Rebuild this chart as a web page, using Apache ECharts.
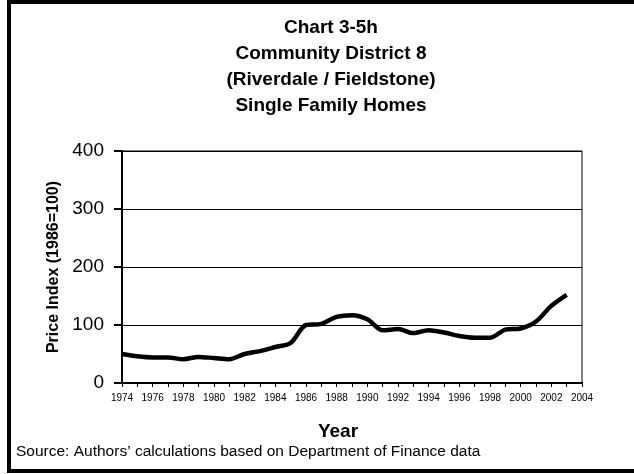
<!DOCTYPE html>
<html>
<head>
<meta charset="utf-8">
<script src="https://cdn.jsdelivr.net/npm/echarts@6/dist/echarts.min.js"></script>
<style>html,body{margin:0;padding:0;background:#fff;}#c{width:634px;height:474px;}</style>
</head>
<body>
<div id="c"></div>
<script>
const titleLines = ["Chart 3-5h", "Community District 8", "(Riverdale / Fieldstone)", "Single Family Homes"];
const years = ["1974","1975","1976","1977","1978","1979","1980","1981","1982","1983","1984","1985","1986","1987","1988","1989","1990","1991","1992","1993","1994","1995","1996","1997","1998","1999","2000","2001","2002","2003","2004"];
const priceIndex = [50,46,44,44,41,45,43,41,50,55,62,69,100,102,114,117,110,91,93,86,91,87,81,78,78,92,94,106,133,152,null];
const yTicks = {min:0, max:400, interval:100};
const yName = "Price Index (1986=100)";
const xName = "Year";
const sourceNote = "Source: Authors\u2019 calculations based on Department of Finance data";

const chart = echarts.init(document.getElementById('c'), null, {renderer:'canvas'});
const FONT = "'Liberation Sans', Arial, sans-serif";
const graphics = [
  {type:'rect', shape:{x:9, y:2, width:640, height:469}, style:{fill:'none', stroke:'#000', lineWidth:4}, z:10}
];
titleLines.forEach((t,i)=>{
  graphics.push({type:'text', x:331, y:28 + i*26, style:{text:t, fontFamily:FONT, fontSize:19, fontWeight:'bold', fill:'#000', textAlign:'center', textVerticalAlign:'middle'}});
});
graphics.push({type:'text', x:338, y:432, style:{text:xName, fontFamily:FONT, fontSize:19, fontWeight:'bold', fill:'#000', textAlign:'center', textVerticalAlign:'middle'}});
graphics.push({type:'text', x:16, y:452, style:{text:sourceNote, fontFamily:FONT, fontSize:15.5, fill:'#000', textAlign:'left', textVerticalAlign:'middle'}});

chart.setOption({
  animation:false,
  backgroundColor:'#fff',
  graphic: graphics,
  grid:{left:122, right:52, top:151, bottom:91, show:true, borderColor:'#000', borderWidth:1, backgroundColor:'#fff'},
  xAxis:{
    type:'category', data:years, boundaryGap:false,
    axisLine:{lineStyle:{color:'#000', width:2}},
    axisTick:{show:true, interval:0, length:4, lineStyle:{color:'#000', width:1}},
    axisLabel:{interval:1, fontFamily:FONT, fontSize:10, color:'#000', margin:10},
    splitLine:{show:false}
  },
  yAxis:{
    type:'value', min:yTicks.min, max:yTicks.max, interval:yTicks.interval,
    name:yName, nameLocation:'middle', nameGap:42, nameRotate:90,
    nameTextStyle:{fontFamily:FONT, fontSize:16, fontWeight:'bold', color:'#000'},
    axisLine:{show:true, lineStyle:{color:'#000', width:2}},
    axisTick:{show:true, length:8, lineStyle:{color:'#000', width:2}},
    axisLabel:{fontFamily:FONT, fontSize:19, color:'#000', margin:18},
    splitLine:{show:true, lineStyle:{color:'#000', width:1}}
  },
  series:[{
    type:'line', data:priceIndex, smooth:0.3, symbol:'none', connectNulls:false,
    lineStyle:{color:'#000', width:4.5}
  }]
});
</script>
</body>
</html>
